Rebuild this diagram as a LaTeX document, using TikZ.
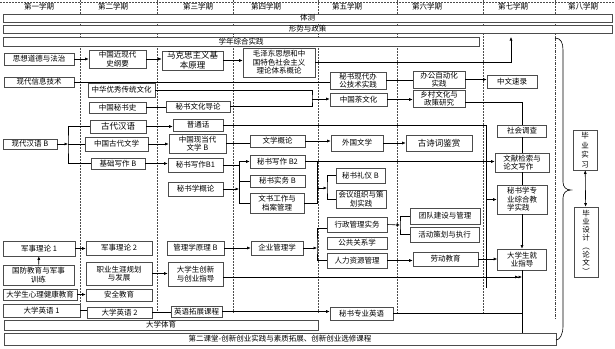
\documentclass[tikz,border=0pt]{standalone}
\usepackage{fontspec}
\newfontfamily\cjk{Noto Sans CJK SC}
\usetikzlibrary{arrows.meta}
\tikzset{wh/.style n args={2}{minimum width=#1pt,minimum height=#2pt}}

\begin{document}
\begin{tikzpicture}[
  x=1pt,y=-1pt,line width=0.6pt,>={Latex[length=3.5pt,width=3pt]},
  course/.style={draw=black!70,fill=white,align=center,inner sep=0.8pt,
    font=\cjk\fontsize{7.5}{8.5}\selectfont},
  bar/.style={course,inner ysep=0pt},
  big/.style={font=\cjk\fontsize{8.5}{9.5}\selectfont},
  term/.style={font=\cjk\fontsize{7.5}{8.5}\selectfont},
  sep/.style={black!70,line width=0.5pt,dash pattern=on 1.5pt off 1.5pt}
]
\useasboundingbox (0,0) rectangle (615,348);
% semesters
\draw[sep] (0,2) -- (615,2);
\foreach \x in {80,157,233,318,397,483}
  \draw[sep] (\x,0) -- (\x,313);
\draw[sep] (555,0) -- (555,38);
\draw[black!75,line width=0.9pt,dash pattern=on 3pt off 1pt on 1pt off 1pt] (555,38) -- (555,320);
\foreach \x/\t [count=\i] in {39/第一学期,113/第二学期,198/第三学期,266/第四学期,
    347/第五学期,427/第六学期,513/第七学期,583/第八学期}
  \node[term] (term\i) at (\x,7) {\t};

% full bars
\node[bar,wh={609}{8}]  (tice) at (307.5,18) {体测};
\node[bar,wh={609}{8}]  (xszc) at (307.5,29) {形势与政策};
\node[bar,wh={476}{9}]  (xnsj) at (241,41.5) {学年综合实践};
\node[bar,wh={314}{10}] (tiyu) at (161,325) {大学体育};
\node[bar,wh={552}{12}] (dekt) at (280,339) {第二课堂-创新创业实践与素质拓展、创新创业选修课程};

% first semester
\node[course,wh={70}{12}] (sxdd)  at (39,59) {思想道德与法治};
\node[course,wh={70}{10}] (xdxx)  at (39,82) {现代信息技术};
\node[course,wh={54}{10}] (xdhy)  at (30,144) {现代汉语 B};
\node[course,wh={72}{15}] (jsll1) at (39,248.5) {军事理论 1};
\node[course,wh={71}{20}] (gfjy)  at (38.5,275) {国防教育与军事\\训练};
\node[course,wh={74}{11}] (xljk)  at (40,294.5) {大学生心理健康教育};
\node[course,wh={77}{13}] (dxyy1) at (41.5,310.5) {大学英语 1};

% second semester
\node[course,wh={57}{18}] (zgjxd)  at (117.5,59) {中国近现代\\史纲要};
\node[course,wh={67}{14}] (zhyx)   at (121.5,90) {中华优秀传统文化};
\node[course,wh={57}{11}] (zgmss)  at (117.5,107.5) {中国秘书史};
\node[course,big,wh={56}{13}] (gdhy) at (118,126.5) {古代汉语};
\node[course,wh={63}{14}] (zggdwx) at (116.5,144) {中国古代文学};
\node[course,wh={54}{11}] (jcxz)   at (118,163.5) {基础写作 B};
\node[course,wh={66}{14}] (jsll2)  at (119,248) {军事理论 2};
\node[course,wh={66}{23}] (zysy)   at (119,273.5) {职业生涯规划\\与发展};
\node[course,wh={66}{12}] (aqjy)   at (119,295) {安全教育};
\node[course,wh={65}{11}] (dxyy2)  at (119.5,312.5) {大学英语 2};

% third semester
\node[course,big,wh={61}{19}] (mksz) at (192.5,60.5) {马克思主义基\\本原理};
\node[course,wh={64}{11}] (msweh)  at (198,106.5) {秘书文化导论};
\node[course,wh={50}{12}] (pth)    at (198,125) {普通话};
\node[course,wh={57}{19}] (xddwx)  at (197.5,143.5) {中国现当代\\文学 B};
\node[course,wh={55}{14}] (msxz1)  at (195.5,165) {秘书写作B1};
\node[course,wh={55}{14}] (msxgl)  at (195.5,189) {秘书学概论};
\node[course,wh={57}{14}] (gllyl)  at (195.5,248) {管理学原理 B};
\node[course,wh={55}{24}] (cxcy)   at (195.5,274) {大学生创新\\与创业指导};
\node[course,wh={51}{11}] (yytz)   at (196.5,311.5) {英语拓展课程};

% fourth semester
\node[course,wh={72}{29}] (mzd)   at (279,62.5) {毛泽东思想和中\\国特色社会主义\\理论体系概论};
\node[course,wh={55}{12}] (wxgl)  at (277.5,141) {文学概论};
\node[course,wh={55}{13}] (msxz2) at (277.5,161.5) {秘书写作 B2};
\node[course,wh={55}{12}] (mssw)  at (277.5,181) {秘书实务 B};
\node[course,wh={54}{20}] (wsgz)  at (277,203) {文书工作与\\档案管理};
\node[course,wh={52}{14}] (qygl)  at (277,248) {企业管理学};

% fifth semester
\node[course,wh={56}{15}] (msxd)  at (358,80.5) {秘书现代办\\公技术实践};
\node[course,wh={57}{13}] (zgcwh) at (358.5,99.5) {中国茶文化};
\node[course,wh={52}{16}] (wgwx)  at (357,143) {外国文学};
\node[course,wh={49}{15}] (msly)  at (360.5,175.5) {秘书礼仪 B};
\node[course,wh={50}{18}] (hyzz)  at (361,199) {会议组织与策\\划实践};
\node[course,wh={60}{15}] (xzgl)  at (357,224.5) {行政管理实务};
\node[course,wh={60}{12}] (ggxx)  at (357,243) {公共关系学};
\node[course,wh={60}{15}] (rlzy)  at (357,260.5) {人力资源管理};
\node[course,wh={63}{13}] (msyy)  at (361.5,313.5) {秘书专业英语};

% sixth semester
\node[course,wh={52}{15}] (bgzd) at (439,79.5) {办公自动化\\实践};
\node[course,wh={52}{17}] (xcwh) at (439,98.5) {乡村文化与\\政策研究};
\node[course,big,wh={66}{16}] (gscj) at (439,143) {古诗词鉴赏};
\node[course,wh={70}{16}] (tdjs) at (445,216) {团队建设与管理};
\node[course,wh={69}{15}] (hdch) at (444.5,234.5) {活动策划与执行};
\node[course,wh={65}{14}] (ldjy) at (445.5,259) {劳动教育};

% seventh semester
\node[course,wh={50}{13}] (zwsl) at (512,81.5) {中文速录};
\node[course,wh={49}{12}] (shdc) at (522,131) {社会调查};
\node[course,align=left,wh={54}{19}] (wxjs) at (522,162.5) {文献检索与\\论文写作};
\node[course,align=left,wh={50}{29}] (zhjx) at (522,199.5) {秘书学专\\业综合教\\学实践};
\node[course,wh={49}{21}] (jyzd) at (522,259.5) {大学生就\\业指导};

% eighth semester
\node[course,wh={24}{40},font=\cjk\fontsize{7.5}{9.5}\selectfont] (bysx) at (585,150) {毕\\业\\实\\习};
\node[course,wh={24}{70},font=\cjk\fontsize{7.5}{8.3}\selectfont] (bysj) at (586,242) {毕\\业\\设\\计\\︵\\论\\文\\︶};
\draw (555,38) .. controls (561,38) and (563,43) .. (563,50) -- (563,182)
  .. controls (563,187) and (566,190) .. (571,190)
  .. controls (566,190) and (563,193) .. (563,198) -- (563,326)
  .. controls (563,334) and (560,340) .. (556,340);
\draw[<->] (bysx) -- (bysj);

% junctions
\coordinate (xsend) at (511,37);
\coordinate (chaj)  at (312,99);
\coordinate (hyjd)  at (68,144);
\coordinate (msjd)  at (239,189);
\coordinate (wsjd)  at (317,188);
\coordinate (lyjd)  at (327,188);
\coordinate (ptend) at (486,288);
\coordinate (qyjd)  at (317,248);
\coordinate (xzjd)  at (400,225);
\coordinate (cxend) at (522,277);

% connectors
\draw[->] (sxdd.east) -- (sxdd.east -| zgjxd.west);
\draw[->] (zgjxd.east) -- (zgjxd.east -| mksz.west);
\draw[->] (mksz.east) -- (mksz.east -| mzd.west);
\draw[->] (mzd.east) -| (xsend);
\draw (xdxx.east) -- (xdxx.east -| msxd.west);
\draw (msxd.east) -- (msxd.east -| bgzd.west);
\draw[->] (bgzd.east) -- (bgzd.east -| zwsl.west);
\draw (zhyx.east) -| (chaj) |- (msweh.east);
\draw (zgmss.east) -- (zgmss.east -| msweh.west);
\draw[->] (chaj) -- (chaj -| zgcwh.west);
\draw[->] (zgcwh.east) -- (zgcwh.east -| xcwh.west);
\draw ([yshift=-4pt]xcwh.east) -| (shdc.north);
\draw (shdc) -- (wxjs);
\draw (wxjs) -- (zhjx);
\draw[->] (zhjx) -- (jyzd);
\draw[->] (xdhy.east) -- (hyjd);
\draw (gdhy.west) -| (hyjd) |- (jcxz.west);
\draw (hyjd) -- (zggdwx.west);
\draw[->] (gdhy.east) -- (gdhy.east -| pth.west);
\draw[->] (zggdwx.east) -- (zggdwx.east -| xddwx.west);
\draw (xddwx.east) -- (xddwx.east -| wxgl.west);
\draw[->] (jcxz.east) -- (jcxz.east -| msxz1.west);
\draw (msxz1.east) -- (msxz1.east -| msjd);
\draw[->] (msjd |- msxz2.west) -- (msxz2.west);
\draw (msjd |- msxz2.west) |- (wsgz.west);
\draw (msjd |- mssw.west) -- (mssw.west);
\draw[->] (msxgl.east) -- (msjd);
\draw[->] (msxz2.east) -- (msxz2.east -| wxjs.west);
\draw (wsgz.east) -| (wsjd |- msxz2.east);
\draw[->] (wsjd) -- (lyjd);
\draw (msly.west) -| (lyjd) |- (hyzz.west);
\draw[->] (wxgl.east) -- (wxgl.east -| wgwx.west);
\draw[->] (wgwx.east) -- (wgwx.east -| gscj.west);
\draw (pth.east) -| (ptend);
\draw[->] (ptend |- zhjx.west) -- (zhjx.west);
\draw[->] (gllyl.east) -- (gllyl.east -| qygl.west);
\draw[->] (qygl.east) -- (qyjd);
\draw ([yshift=-4pt]xzgl.west) -| (qyjd) |- (rlzy.west);
\draw[->] (xzgl.east) -- (xzjd);
\draw (tdjs.west) -| (xzjd) |- (hdch.west);
\draw[->] (rlzy.east) -- (rlzy.east -| ldjy.west);
\draw[->] (ldjy.east) -- (ldjy.east -| jyzd.west);
\draw[->] (jsll1.east) -- (jsll1.east -| jsll2.west);
\draw[->] (gfjy) -- (jsll1);
\draw[->] (zysy.east) -- (zysy.east -| cxcy.west);
\draw[->>] ([yshift=-3pt]cxcy.east) -- (cxend);
\draw (jyzd.south |- dekt.north) -- (jyzd.south);
\draw (msyy.east) -- (msyy.east -| jyzd.south);
\draw[->] (xljk.east) -- (xljk.east -| aqjy.west);
\draw (dxyy1.east) -- (dxyy1.east -| dxyy2.west);
\draw (dxyy2.east) -- (dxyy2.east -| yytz.west);
\draw[->] (yytz.east) -- (yytz.east -| msyy.west);
\end{tikzpicture}
\end{document}
